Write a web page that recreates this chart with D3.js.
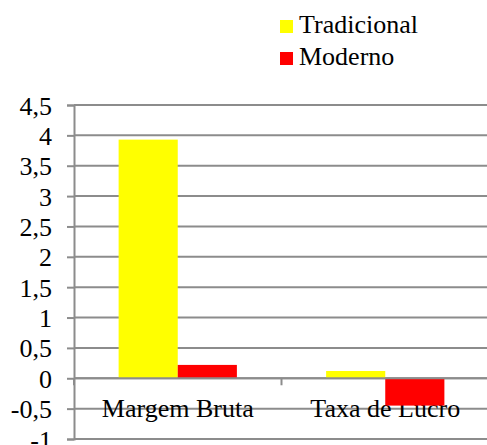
<!DOCTYPE html>
<html>
<head>
<meta charset="utf-8">
<script src="https://cdn.jsdelivr.net/npm/d3@7"></script>
<style>
  html, body { margin: 0; padding: 0; background: #fff; }
  svg { display: block; }
</style>
</head>
<body>
<div id="chart"></div>
<script>
// Indicators compared between the two production systems
const categories = ["Margem Bruta", "Taxa de Lucro"];
const seriesNames = ["Tradicional", "Moderno"];
const tradicional = [3.93, 0.12];
const moderno = [0.22, -0.45];
const seriesColors = ["#ffff00", "#ff0000"];
const yTicks = [-1, -0.5, 0, 0.5, 1, 1.5, 2, 2.5, 3, 3.5, 4, 4.5];

const W = 487, H = 445;
const plot = { left: 74, right: 489, top: 105, bottom: 439 };
const fontFamily = "'Liberation Serif', 'Times New Roman', Times, serif";
const fontSize = 26;
const gridColor = "#8c8c8c";

const svg = d3.select("#chart").append("svg")
  .attr("width", W).attr("height", H);

const y = d3.scaleLinear().domain([-1, 4.5]).range([plot.bottom, plot.top]);
const x0 = d3.scaleBand().domain(categories).range([plot.left, plot.right])
  .paddingInner(0.43).paddingOuter(0.215);
const x1 = d3.scaleBand().domain(seriesNames).range([0, x0.bandwidth()]);
const step = x0.step();
const bandStart = c => plot.left + categories.indexOf(c) * step;

const fmt = v => String(v).replace(".", ",");
const styleText = sel => sel
  .attr("font-family", fontFamily)
  .style("font-family", fontFamily)
  .attr("font-size", fontSize)
  .attr("fill", "#000");

// Horizontal gridlines
svg.append("g").selectAll("line").data(yTicks).join("line")
  .attr("x1", plot.left).attr("x2", plot.right)
  .attr("y1", d => y(d)).attr("y2", d => y(d))
  .attr("stroke", gridColor).attr("stroke-width", 2);

// Value axis with ticks on the left
const yAxis = svg.append("g").attr("transform", `translate(${plot.left},0)`)
  .call(d3.axisLeft(y).tickValues(yTicks).tickSize(7).tickPadding(0).tickFormat(fmt));
yAxis.attr("font-family", null).attr("font-size", null);
yAxis.select(".domain").attr("stroke", gridColor).attr("stroke-width", 2);
yAxis.selectAll(".tick line").attr("stroke", gridColor).attr("stroke-width", 2);
yAxis.selectAll(".tick text").remove();
yAxis.selectAll(".tick").append("text")
  .call(styleText)
  .attr("text-anchor", "end")
  .attr("x", -22)
  .attr("y", 9)
  .text(d => fmt(d));

// Category labels sit below the zero line
svg.append("g").selectAll("text").data(categories).join("text")
  .call(styleText)
  .attr("text-anchor", "middle")
  .attr("x", c => bandStart(c) + step / 2)
  .attr("y", 416.5)
  .text(c => c);

// Bars
const rows = categories.map((c, i) => ({ c, vals: [tradicional[i], moderno[i]] }));
svg.append("g").selectAll("g").data(rows).join("g")
  .attr("transform", d => `translate(${x0(d.c)},0)`)
  .selectAll("rect").data(d => d.vals.map((v, j) => ({ v, s: seriesNames[j], col: seriesColors[j] })))
  .join("rect")
  .attr("x", d => x1(d.s))
  .attr("width", x1.bandwidth())
  .attr("y", d => y(Math.max(0, d.v)))
  .attr("height", d => Math.abs(y(d.v) - y(0)))
  .attr("fill", d => d.col);

// Category axis on zero with boundary ticks
svg.append("line")
  .attr("x1", plot.left).attr("x2", plot.right)
  .attr("y1", y(0)).attr("y2", y(0))
  .attr("stroke", gridColor).attr("stroke-width", 2);
svg.append("g").selectAll("line").data(d3.range(categories.length + 1)).join("line")
  .attr("x1", i => plot.left + i * step).attr("x2", i => plot.left + i * step)
  .attr("y1", y(0)).attr("y2", y(0) + 7)
  .attr("stroke", gridColor).attr("stroke-width", 2);

// Legend
const legend = svg.append("g").selectAll("g").data(seriesNames).join("g")
  .attr("transform", (d, i) => `translate(280,${20 + i * 32})`);
legend.append("rect").attr("width", 13).attr("height", 13)
  .attr("fill", (d, i) => seriesColors[i]);
legend.append("text")
  .call(styleText)
  .attr("x", 19)
  .attr("y", 13)
  .text(d => d);
</script>
</body>
</html>
